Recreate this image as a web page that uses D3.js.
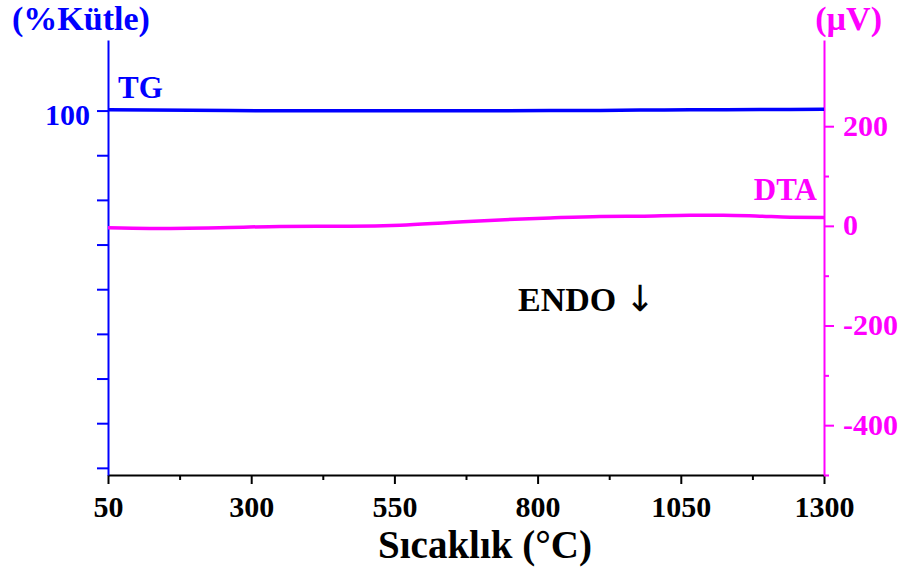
<!DOCTYPE html>
<html>
<head>
<meta charset="utf-8">
<script src="https://cdn.jsdelivr.net/npm/d3@7"></script>
<style>
  html, body { margin: 0; padding: 0; background: #fff; }
  svg { display: block; font-family: "Liberation Serif", "Times New Roman", serif; font-weight: bold; }
</style>
</head>
<body>
<svg id="chart" width="906" height="573"></svg>
<script>
// Temperature (°C) sampled along both curves
const temperature = [50, 123, 263, 350, 472, 560, 647, 734, 822, 909, 979, 1066, 1124, 1188, 1241, 1300];
// TG: mass (%)
const tgMass = [100.1, 100.05, 100.0, 99.98, 99.97, 99.97, 99.97, 99.98, 100.0, 100.02, 100.05, 100.08, 100.1, 100.12, 100.13, 100.15];
// DTA signal (µV)
const dtaSignal = [-4, -5.2, -3.2, -1.2, -0.8, 1.4, 6.8, 12, 16, 19, 19.5, 21.5, 21.5, 19.5, 17.5, 17];

const xTicks = [50, 300, 550, 800, 1050, 1300];
const xMinorTicks = [175, 425, 675, 925, 1175];
const massTicks = [60, 65, 70, 75, 80, 85, 90, 95, 100];
const massLabels = [100];
const dtaTicks = [200, 0, -200, -400];
const dtaMinorTicks = [100, -100, -300, -500];

const blue = "#0000ff";
const magenta = "#ff00ff";
const serif = "Liberation Serif, Times New Roman, serif";

const svg = d3.select("#chart");
const plotLeft = 108, plotRight = 824, plotTop = 40, plotBottom = 475;

const x = d3.scaleLinear().domain([50, 1300]).range([plotLeft, plotRight]);
const yMass = d3.scaleLinear().domain([59.2, 107.9]).range([plotBottom, plotTop]);
const yDta = d3.scaleLinear().domain([-500, 373]).range([plotBottom, plotTop]);

function styleTicks(g, color, dy) {
  g.attr("font-size", 30).attr("font-family", serif).attr("font-weight", "bold");
  g.select(".domain").attr("stroke", color).attr("stroke-width", 2);
  g.selectAll(".tick line").attr("stroke", color).attr("stroke-width", 2);
  const t = g.selectAll(".tick text").attr("fill", color);
  if (dy) t.attr("dy", dy);
}

// Bottom axis: major and minor ticks
svg.append("g").attr("transform", `translate(0,${plotBottom})`)
  .call(d3.axisBottom(x).tickValues(xTicks).tickFormat(d3.format("d")).tickSizeInner(9).tickSizeOuter(0).tickPadding(12))
  .call(g => styleTicks(g, "#000"));
svg.append("g").attr("transform", `translate(0,${plotBottom})`)
  .call(d3.axisBottom(x).tickValues(xMinorTicks).tickFormat("").tickSizeInner(5).tickSizeOuter(0))
  .call(g => g.select(".domain").remove())
  .selectAll(".tick line").attr("stroke", "#000").attr("stroke-width", 2);

// Left axis (mass)
svg.append("g").attr("transform", `translate(${plotLeft},0)`)
  .call(d3.axisLeft(yMass).tickValues(massTicks)
    .tickFormat(d => massLabels.includes(d) ? d : "").tickSizeInner(11).tickSizeOuter(0).tickPadding(7))
  .call(g => styleTicks(g, blue, "0.45em"));

// Right axis (DTA)
svg.append("g").attr("transform", `translate(${plotRight},0)`)
  .call(d3.axisRight(yDta).tickValues(dtaTicks).tickFormat(d => String(d)).tickSizeInner(10).tickSizeOuter(0).tickPadding(9))
  .call(g => styleTicks(g, magenta, "0.3em"));
svg.append("g").attr("transform", `translate(${plotRight},0)`)
  .call(d3.axisRight(yDta).tickValues(dtaMinorTicks).tickFormat("").tickSizeInner(5).tickSizeOuter(0))
  .call(g => g.select(".domain").remove())
  .selectAll(".tick line").attr("stroke", magenta).attr("stroke-width", 2);

// Curves
const tgLine = d3.line().x((d, i) => x(temperature[i])).y(d => yMass(d)).curve(d3.curveMonotoneX);
const dtaLine = d3.line().x((d, i) => x(temperature[i])).y(d => yDta(d)).curve(d3.curveMonotoneX);

svg.append("path").datum(dtaSignal).attr("d", dtaLine)
  .attr("fill", "none").attr("stroke", magenta).attr("stroke-width", 3.5);
svg.append("path").datum(tgMass).attr("d", tgLine)
  .attr("fill", "none").attr("stroke", blue).attr("stroke-width", 3.5);

// Labels
svg.append("text").attr("x", 12).attr("y", 30).attr("fill", blue).attr("font-size", 34).text("(%Kütle)");
svg.append("text").attr("x", 882).attr("y", 30).attr("text-anchor", "end").attr("fill", magenta).attr("font-size", 34).text("(µV)");
svg.append("text").attr("x", 118).attr("y", 98).attr("fill", blue).attr("font-size", 31).text("TG");
svg.append("text").attr("x", 817).attr("y", 200).attr("text-anchor", "end").attr("fill", magenta).attr("font-size", 31).text("DTA");
const endo = svg.append("text").attr("x", 518).attr("y", 311).attr("fill", "#000").attr("font-size", 34);
endo.append("tspan").text("ENDO ");
endo.append("tspan").attr("font-family", "DejaVu Sans").attr("font-weight", "normal").attr("font-size", 36).text("↓");
svg.append("text").attr("x", 485).attr("y", 558).attr("text-anchor", "middle").attr("fill", "#000").attr("font-size", 39).text("Sıcaklık (°C)");
</script>
</body>
</html>
